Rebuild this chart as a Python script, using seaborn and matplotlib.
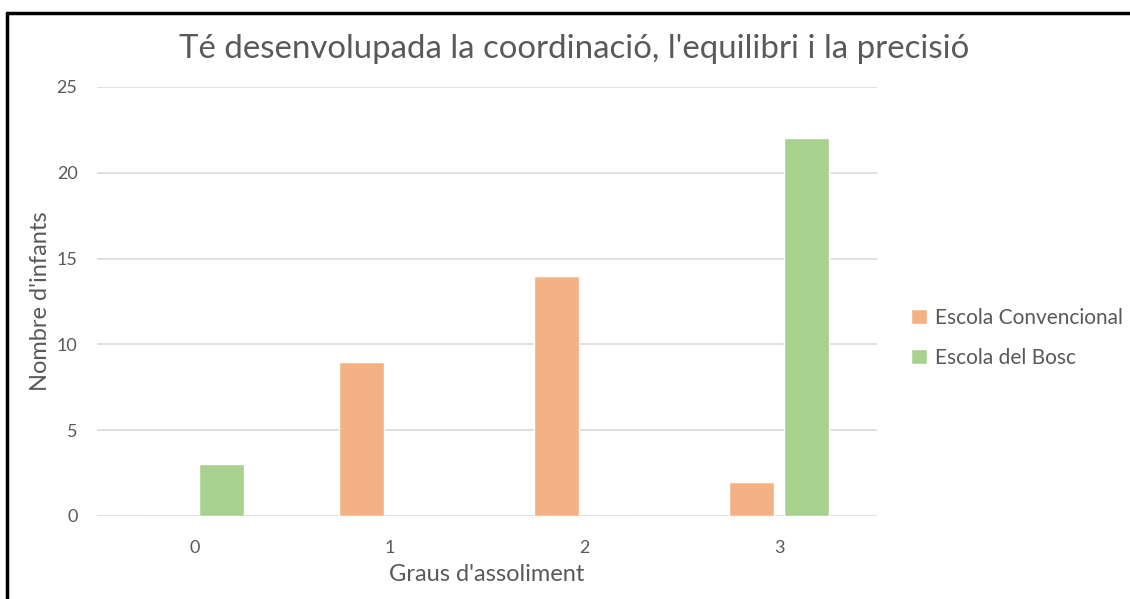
import seaborn as sns
import pandas as pd
import matplotlib.pyplot as plt
from matplotlib.lines import Line2D

# Dades del gràfic
graus = ["0", "1", "2", "3"]
escola_convencional = [0, 9, 14, 2]
escola_bosc = [3, 0, 0, 22]
series = ["Escola Convencional", "Escola del Bosc"]
colors = ["#F4B183", "#A9D18E"]

df = pd.DataFrame({
    "grau": graus * 2,
    "valor": escola_convencional + escola_bosc,
    "escola": [series[0]] * 4 + [series[1]] * 4,
})

sns.set_style("white")
plt.rcParams["font.family"] = ["Lato", "DejaVu Sans"]
text_color = "#595959"

fig = plt.figure(figsize=(11.3, 5.99), dpi=100)
ax = fig.add_axes([0.0858, 0.1386, 0.776 - 0.0858, 0.8548 - 0.1386])

sns.barplot(data=df, x="grau", y="valor", hue="escola", palette=colors,
            width=0.564, gap=0.18, ax=ax, saturation=1, legend=True)

ax.set_ylim(0, 25)
ax.set_yticks([0, 5, 10, 15, 20, 25])
ax.set_xlim(-0.5, 3.5)
ax.yaxis.grid(True, color="#D9D9D9", linewidth=1.2)
ax.set_axisbelow(True)
sns.despine(ax=ax, left=True, bottom=True)
ax.tick_params(axis="both", length=0, labelsize=13, labelcolor=text_color)
ax.tick_params(axis="x", pad=17)
ax.tick_params(axis="y", pad=14)

ax.set_xlabel("Graus d'assoliment", fontsize=17, color=text_color, labelpad=6)
ax.set_ylabel("Nombre d'infants", fontsize=17, color=text_color, labelpad=4)
fig.text(574 / 1130, 1 - 49 / 599,
         "Té desenvolupada la coordinació, l'equilibri i la precisió",
         fontsize=23.8, color=text_color, ha="center", va="center")

leg = ax.legend(loc="center left", bbox_to_anchor=(1.02, 0.415), frameon=False,
                fontsize=15, labelcolor=text_color, handlelength=0.75,
                handleheight=0.75, handletextpad=0.4, labelspacing=0.95)

# Marc exterior (només superior i esquerre visibles)
fig.add_artist(Line2D([7 / 1130, 1], [1 - 13 / 599, 1 - 13 / 599],
                      transform=fig.transFigure, color="black", linewidth=2.5))
fig.add_artist(Line2D([7 / 1130, 7 / 1130], [0, 1 - 13 / 599],
                      transform=fig.transFigure, color="black", linewidth=2.5))

fig.savefig("out.png", dpi=100)
